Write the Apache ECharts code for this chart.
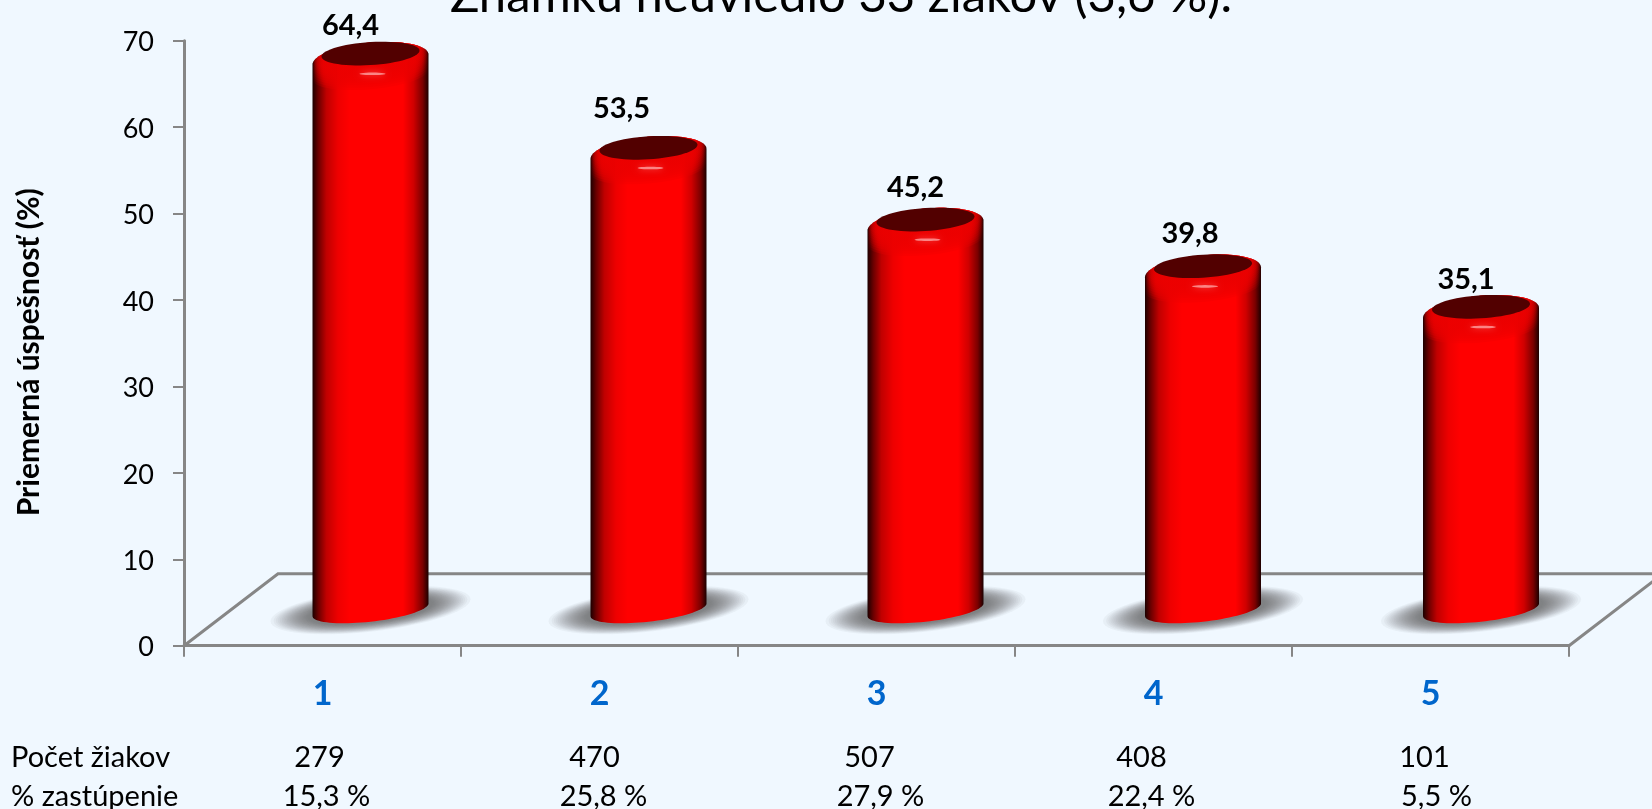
<!DOCTYPE html>
<html><head><meta charset="utf-8">
<style>html,body{margin:0;padding:0;background:#F0F8FF}#c{width:1652px;height:809px}</style>
<script src="https://cdn.jsdelivr.net/npm/echarts@6/dist/echarts.min.js"></script>
</head><body><div id="c"></div>
<script>
// ---- data ----
const grades = ['1','2','3','4','5'];
const success = [64.4,53.5,45.2,39.8,35.1];
const pupils = ['279','470','507','408','101'];
const share = ['15,3 %','25,8 %','27,9 %','22,4 %','5,5 %'];
const yTicks = [0,10,20,30,40,50,60,70];
const titleText = 'Známku neuviedlo 33 žiakov (3,6 %).';
const yName = 'Priemerná úspešnosť (%)';
const rowNames = ['Počet žiakov','% zastúpenie'];

// ---- layout (pixels) ----
const FONT = 'Lato, "Noto Sans", sans-serif';
const DEPTH_X = 94, DEPTH_Y = 72;
const BAR_SHIFT = [1,2,2,2.5,3.5];
const LABEL_SHIFT = [[-20,-29],[-27,-40],[-10,-33],[-13,-34],[-15,-28]];
const ROW1_SHIFT = [-3,-5,-7,-12,-6];
const ROW2_SHIFT = [4,4,4,-2,6];
const GRID = {left:184, top:40.7, width:1385, height:605, outerBoundsMode:'none', containLabel:false};
const AXIS = '#868686';

function ell(cx,cy,rx,ry,k,from,to,n){
  const p=[];
  for(let i=0;i<=n;i++){
    const t=from+(to-from)*i/n, x=rx*Math.cos(t);
    p.push([cx+x, cy+ry*Math.sin(t)-k*x]);
  }
  return p;
}
const grad=(x2,y2,stops)=>new echarts.graphic.LinearGradient(0,0,x2,y2,stops);

function floorItem(params,api){
  const c=params.coordSys, x0=c.x, x1=c.x+c.width, y0=c.y+c.height;
  return {type:'polyline',shape:{points:[[x0,y0],[x0+DEPTH_X,y0-DEPTH_Y],[x1+DEPTH_X,y0-DEPTH_Y],[x1,y0]]},
    style:{stroke:AXIS,lineWidth:3,fill:'none'}};
}
function shadowItem(params,api){
  const i=api.value(0), base=api.coord([i,0]);
  const cx=base[0]+DEPTH_X/2+BAR_SHIFT[i], cy=base[1]-DEPTH_Y/2;
  const layers=[], N=24;
  for(let n=0;n<N;n++){
    const f=Math.pow(n/(N-1),0.8);
    layers.push({type:'polygon',shape:{points:ell(cx,cy+0.5,100-f*38,21.5-f*9,0.11,0,Math.PI*2,60)},
      style:{fill:'rgba(95,99,103,0.06)'}});
  }
  return {type:'group',children:layers};
}
function barItem(params,api){
  const i=api.value(0), v=api.value(1);
  const top=api.coord([i,v]), base=api.coord([i,0]);
  const cx=top[0]+DEPTH_X/2+BAR_SHIFT[i], ty=top[1]-DEPTH_Y/2, by=base[1]-DEPTH_Y/2;
  const rx=58;
  const upper=ell(cx,ty+6.5,rx,17,0.086,Math.PI,Math.PI*2,40);
  const lower=ell(cx,by,rx,12,0.11,0,Math.PI,40);
  const sh=LABEL_SHIFT[i];
  const children=[
    {type:'polygon',shape:{points:upper.concat(lower)},style:{fill:grad(1,0,[
      {offset:0,color:'#1c0000'},{offset:.05,color:'#6a0000'},{offset:.12,color:'#c00000'},
      {offset:.22,color:'#ee0000'},{offset:.32,color:'#ff0000'},{offset:.78,color:'#ff0000'},
      {offset:.87,color:'#d00000'},{offset:.95,color:'#7a0000'},{offset:1,color:'#1c0000'}])}}
  ];
  // soft bevel below the top face: stacked translucent bands
  for(let n=0;n<9;n++){
    children.push({type:'polygon',
      shape:{points:upper.concat(ell(cx,ty+2+n*2.4,rx,15,0.086,0,Math.PI,40))},
      style:{fill:grad(1,0,[
        {offset:0,color:'rgba(235,0,0,0)'},{offset:.1,color:'rgba(235,0,0,.28)'},
        {offset:.88,color:'rgba(235,0,0,.28)'},{offset:1,color:'rgba(235,0,0,0)'}])}});
  }
  children.push(
    {type:'polygon',shape:{points:ell(cx,ty+0.5,49,11.5,0.06,0,Math.PI*2,60)},style:{fill:'#520000'}},
    {type:'polygon',shape:{points:ell(cx+2,ty+20.7,13,1.3,0,0,Math.PI*2,24)},
      style:{fill:'rgba(255,170,170,.75)',shadowBlur:6,shadowColor:'#ff7070'}},
    {type:'text',style:{x:cx+sh[0],y:ty+sh[1]+1.5,text:String(v).replace('.',','),
      font:'bold 29px '+FONT,fill:'#000',align:'center',verticalAlign:'middle'}}
  );
  return {type:'group',children};
}

const rowText=(txt,x,y,align)=>({type:'text',style:{text:txt,x,y,font:'29px '+FONT,fill:'#000',
  textAlign:align||'center',textVerticalAlign:'middle'}});
const bandCenter=i=>GRID.left+GRID.width*(i+0.5)/grades.length;
const graphics=[
  {type:'text',style:{text:titleText,x:841,y:-4,font:'49px '+FONT,fill:'#000',textAlign:'center',textVerticalAlign:'middle'}},
  rowText(rowNames[0],11,758,'left'),
  rowText(rowNames[1],11,797,'left')
];
grades.forEach((g,i)=>{
  graphics.push(rowText(pupils[i],bandCenter(i)+ROW1_SHIFT[i],758));
  graphics.push(rowText(share[i],bandCenter(i)+ROW2_SHIFT[i],797));
});

const chart=echarts.init(document.getElementById('c'),null,{renderer:'canvas'});
chart.setOption({
  animation:false,
  backgroundColor:'#F0F8FF',
  grid:GRID,
  xAxis:{type:'category',data:grades,
    axisLine:{lineStyle:{color:AXIS,width:3}},
    axisTick:{show:true,length:11,lineStyle:{color:AXIS,width:2}},
    axisLabel:{margin:31,fontFamily:FONT,fontWeight:'bold',fontSize:34,color:'#0066CC'}},
  yAxis:{type:'value',min:yTicks[0],max:yTicks[yTicks.length-1],interval:10,
    name:yName,nameLocation:'middle',nameGap:140,nameRotate:90,
    nameTextStyle:{fontFamily:FONT,fontWeight:'bold',fontSize:30,color:'#000',padding:[0,18,0,0]},
    axisLine:{show:true,lineStyle:{color:AXIS,width:3}},
    axisTick:{show:true,length:11,lineStyle:{color:AXIS,width:2}},
    splitLine:{show:false},
    axisLabel:{margin:30,fontFamily:FONT,fontSize:27,color:'#000',verticalAlign:'top',lineHeight:4}},
  graphic:graphics,
  series:[
    {type:'custom',name:'floor',coordinateSystem:'cartesian2d',clip:false,silent:true,z:1,data:[[0,0]],encode:{x:0,y:1},renderItem:floorItem},
    {type:'custom',name:'shadow',coordinateSystem:'cartesian2d',clip:false,silent:true,z:2,data:success.map((v,i)=>[i,v]),encode:{x:0,y:1},renderItem:shadowItem},
    {type:'custom',name:'Priemerná úspešnosť',coordinateSystem:'cartesian2d',clip:false,z:3,data:success.map((v,i)=>[i,v]),encode:{x:0,y:1},renderItem:barItem}
  ]
});
</script></body></html>
